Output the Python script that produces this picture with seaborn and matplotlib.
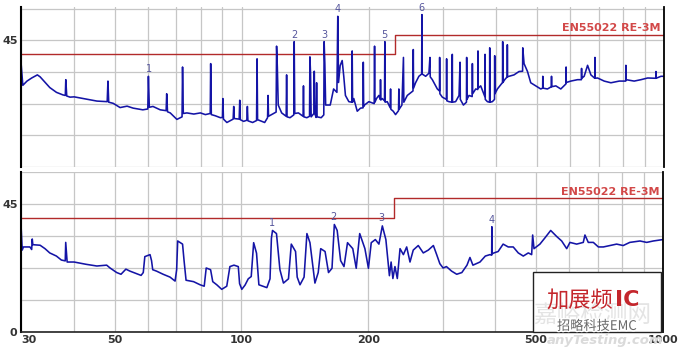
import matplotlib
matplotlib.use("Agg")
import matplotlib.pyplot as plt
import seaborn as sns
from matplotlib.patches import Rectangle
from matplotlib.ticker import NullFormatter
import matplotlib.patheffects as pe

# 1. DATA  (frequency in MHz, level in dBuV/m)
top_freq = [30.0, 30.3, 31.0, 31.8, 32.8, 33.3, 34.0, 35.1, 36.4, 37.7,
            38.2, 38.3, 38.5, 39.2, 40.1, 42.8, 45.4, 48.0, 48.2, 48.4,
            49.6, 51.5, 53.5, 55.3, 58.3, 59.9, 60.1, 60.4, 61.6, 64.1,
            66.2, 66.4, 66.7, 67.7, 70.2, 72.2, 72.4, 72.7, 74.1, 77.0,
            79.8, 82.0, 84.2, 84.4, 84.7, 86.5, 89.0, 90.0, 90.2, 90.5,
            92.2, 95.4, 95.7, 96.0, 98.6, 98.9, 99.2, 101.0, 102.8, 103.1,
            103.4, 106.1, 108.4, 108.7, 109.0, 113.3, 115.1, 115.4, 115.7, 117.6,
            120.6, 120.9, 121.4, 122.0, 124.3, 127.4, 127.7, 128.0, 130.1, 132.8,
            133.1, 133.5, 136.2, 139.7, 140.0, 140.3, 142.6, 144.7, 145.0, 145.5,
            146.0, 148.2, 148.5, 148.9, 150.0, 150.4, 150.8, 154.2, 156.4, 156.7,
            157.3, 158.0, 162.0, 165.0, 168.0, 168.8, 169.5, 171.0, 172.9, 174.4,
            176.0, 179.3, 182.3, 182.6, 183.0, 184.2, 187.7, 191.1, 193.7, 194.0,
            194.4, 195.3, 200.0, 205.9, 206.3, 206.7, 208.5, 211.2, 212.8, 213.1,
            213.5, 215.1, 217.8, 218.2, 218.6, 221.1, 224.7, 225.1, 225.5, 228.4,
            231.3, 235.1, 235.5, 235.9, 239.5, 241.5, 242.0, 246.6, 254.4, 254.8,
            255.2, 258.0, 262.7, 266.7, 267.1, 267.5, 272.6, 277.5, 279.0, 279.5,
            282.7, 290.5, 293.9, 294.2, 294.6, 298.5, 305.2, 305.6, 306.0, 309.4,
            314.8, 315.2, 315.6, 321.0, 327.0, 328.8, 329.3, 334.9, 340.5, 340.9,
            341.4, 345.3, 351.3, 351.7, 352.2, 358.1, 362.2, 362.6, 363.1, 368.0,
            376.4, 376.8, 377.3, 381.7, 386.2, 386.6, 387.1, 392.2, 396.8, 397.2,
            397.7, 403.1, 414.5, 414.9, 415.4, 419.5, 425.2, 425.6, 426.1, 429.4,
            441.3, 453.6, 462.5, 462.9, 466.2, 475.0, 483.5, 496.9, 510.6, 516.0,
            516.3, 516.8, 529.7, 541.0, 541.5, 542.0, 554.4, 569.6, 585.8, 586.3,
            586.8, 601.6, 624.0, 637.4, 637.9, 638.5, 647.0, 659.2, 671.2, 685.5,
            686.1, 686.7, 696.1, 721.7, 748.6, 783.4, 811.6, 812.3, 813.0, 849.9,
            881.9, 914.8, 956.3, 957.1, 958.0, 983.7, 1000.0]
top_level = [37.2, 29.0, 30.5, 31.6, 32.7, 32.0, 30.5, 28.2, 26.5, 25.6,
             25.4, 31.0, 25.2, 24.8, 24.9, 24.1, 23.4, 23.2, 30.5, 23.0,
             22.6, 21.1, 21.6, 20.9, 20.3, 20.6, 32.2, 21.2, 21.5, 20.3,
             20.0, 26.0, 19.6, 19.2, 16.9, 17.8, 35.5, 19.0, 19.2, 18.8,
             19.2, 18.6, 19.0, 36.7, 18.6, 18.2, 17.5, 17.6, 24.3, 17.0,
             15.8, 17.0, 21.5, 17.2, 17.0, 23.7, 16.8, 16.2, 16.6, 21.5,
             16.4, 15.8, 16.5, 38.4, 16.8, 15.8, 17.5, 25.4, 18.0, 18.6,
             19.5, 42.9, 35.5, 22.0, 19.2, 18.0, 32.7, 17.8, 17.5, 18.5,
             44.5, 19.0, 19.2, 18.0, 28.8, 17.8, 17.5, 18.0, 39.1, 33.3,
             17.8, 19.0, 34.0, 19.0, 17.6, 29.9, 17.8, 17.5, 18.5, 44.5,
             36.7, 22.0, 22.0, 27.7, 26.5, 53.5, 30.0, 36.0, 37.8, 32.2,
             25.4, 23.2, 23.0, 41.2, 23.0, 24.3, 19.8, 20.9, 21.0, 37.2,
             21.5, 22.0, 23.2, 22.5, 42.9, 23.0, 24.3, 25.4, 24.0, 31.0,
             23.8, 24.3, 23.5, 44.5, 23.0, 23.2, 21.0, 27.7, 20.5, 19.8,
             18.6, 20.0, 27.7, 20.5, 22.0, 38.9, 23.0, 25.4, 27.0, 41.7,
             28.0, 29.9, 32.2, 33.0, 54.1, 33.0, 32.2, 33.3, 38.9, 32.0,
             31.0, 27.7, 27.0, 38.9, 26.0, 24.8, 24.0, 38.4, 23.5, 23.2,
             23.0, 40.0, 23.0, 23.2, 25.4, 37.2, 24.0, 22.0, 23.0, 38.9,
             24.0, 25.4, 25.0, 36.7, 26.0, 27.7, 27.5, 41.2, 28.0, 28.8,
             25.0, 40.0, 24.0, 23.2, 23.0, 42.3, 23.0, 23.2, 24.0, 39.5,
             26.0, 27.7, 30.0, 44.5, 30.0, 31.0, 32.0, 43.4, 32.0, 32.2,
             32.7, 33.9, 34.0, 42.3, 36.7, 33.9, 29.9, 28.8, 27.7, 28.0,
             32.2, 28.0, 27.7, 28.5, 32.2, 28.5, 28.8, 27.7, 29.5, 35.5,
             30.0, 30.5, 31.0, 31.0, 35.0, 31.5, 32.2, 36.1, 32.7, 31.5,
             38.9, 31.5, 31.6, 30.5, 29.9, 30.5, 30.5, 36.1, 31.0, 30.5,
             31.0, 31.6, 31.5, 33.9, 31.5, 32.2, 32.2]

bottom_freq = [30.0, 30.2, 30.4, 31.5, 31.8, 31.9, 32.0, 33.3, 34.2, 35.1,
               36.4, 37.4, 38.2, 38.3, 38.6, 40.1, 42.8, 45.4, 47.9, 48.8,
               50.6, 51.8, 53.2, 54.4, 56.2, 57.8, 58.5, 59.0, 60.7, 61.2,
               61.6, 62.9, 65.2, 67.7, 69.6, 70.2, 70.6, 72.5, 73.1, 73.9,
               77.0, 79.8, 81.6, 82.5, 84.5, 85.5, 87.4, 89.8, 92.3, 93.9,
               96.0, 98.3, 99.0, 100.2, 102.0, 103.8, 105.5, 106.9, 108.6, 110.0,
               114.9, 116.9, 117.8, 118.5, 121.1, 123.4, 125.8, 129.3, 131.3, 134.4,
               135.6, 137.7, 140.8, 143.0, 145.4, 149.4, 152.1, 154.2, 157.9, 160.9,
               164.0, 166.1, 168.7, 171.9, 175.1, 178.5, 183.7, 187.2, 190.8, 196.3,
               200.1, 203.2, 207.8, 211.9, 215.9, 220.1, 224.4, 226.5, 228.7, 231.3,
               234.3, 237.8, 242.2, 246.6, 251.1, 255.6, 262.7, 270.0, 277.5, 285.3,
               290.5, 295.6, 300.9, 306.4, 315.2, 324.1, 333.3, 342.8, 348.4, 354.1,
               368.0, 378.9, 388.6, 392.3, 392.7, 393.2, 397.2, 406.4, 417.6, 429.4,
               441.3, 453.6, 466.2, 479.2, 488.0, 490.7, 494.3, 510.6, 524.8, 541.5,
               559.3, 575.0, 591.0, 601.6, 624.0, 647.0, 652.9, 664.9, 683.5, 702.6,
               722.0, 748.6, 776.2, 804.6, 834.0, 881.9, 914.8, 948.5, 1000.0]
bottom_level = [37.8, 28.8, 29.9, 29.9, 29.0, 32.7, 30.7, 30.5, 29.3, 27.8,
                26.7, 25.3, 25.0, 31.5, 24.6, 24.6, 23.8, 23.2, 23.5, 22.5,
                20.9, 20.3, 22.1, 21.4, 20.6, 19.9, 20.9, 26.5, 27.2, 25.1,
                21.9, 21.4, 20.3, 19.3, 17.9, 21.9, 32.0, 30.9, 25.1, 18.2,
                17.7, 16.6, 16.1, 22.5, 21.9, 17.7, 16.6, 15.0, 16.1, 23.0,
                23.5, 23.0, 17.0, 15.0, 16.5, 18.7, 19.5, 31.4, 27.7, 16.6,
                15.6, 18.7, 33.0, 35.7, 34.6, 21.9, 17.2, 18.7, 30.9, 28.3,
                19.3, 16.6, 19.3, 34.6, 31.4, 17.2, 20.9, 29.3, 28.3, 20.9,
                22.4, 37.8, 35.7, 25.1, 23.0, 31.4, 29.3, 22.4, 34.6, 29.3,
                22.4, 31.4, 32.5, 30.9, 37.3, 32.5, 19.8, 24.6, 18.8, 23.0,
                18.8, 29.3, 27.2, 29.9, 24.6, 28.8, 30.4, 27.8, 28.8, 30.4,
                27.2, 24.0, 22.5, 23.0, 21.4, 20.3, 20.9, 23.5, 26.2, 23.5,
                24.6, 26.7, 27.2, 27.0, 37.0, 27.5, 27.8, 28.3, 30.9, 29.9,
                29.9, 27.8, 26.7, 27.8, 27.2, 34.1, 29.3, 30.9, 33.1, 35.7,
                33.6, 32.0, 29.3, 31.5, 30.9, 31.5, 34.1, 31.5, 31.5, 29.9,
                29.9, 30.4, 30.9, 30.4, 31.5, 32.0, 31.5, 32.0, 32.5]

limit_freq = [30, 230, 230, 1000]
limit_level = [40, 40, 47, 47]

top_marker_freq = [60.2, 133.0, 157.0, 169.0, 218.0, 267.0]
top_marker_level = [32.2, 44.5, 44.5, 53.5, 44.5, 54.1]
bottom_marker_freq = [118.3, 165.6, 214.5, 392.7]
bottom_marker_level = [36.0, 38.0, 37.6, 37.0]

x_ticks = [30, 50, 100, 200, 500, 1000]
grid_freq = [40, 60, 70, 80, 90, 300, 400, 600, 700, 800, 900]
y_grid = [0, 11.25, 22.5, 33.75, 45, 56.25]

# 2. STYLE
sns.set_style("white")
plt.rcParams['font.family'] = ['DejaVu Sans', 'Noto Sans CJK SC']

trace_color = "#1414a6"
limit_color = "#b22a2a"
grid_color = "#c6c6c6"

fig = plt.figure(figsize=(6.8, 3.57), dpi=100)
ax_top = fig.add_axes([21 / 680, 1 - 167 / 357, 643 / 680, 160 / 357])
ax_bot = fig.add_axes([21 / 680, 1 - 332 / 357, 642 / 680, 160 / 357])


def style_panel(ax, ylim, ylabels, show_x):
    ax.set_xscale('log')
    ax.set_xlim(30, 1000)
    ax.set_ylim(*ylim)
    ax.set_xticks(x_ticks)
    ax.set_xticks(grid_freq, minor=True)
    ax.xaxis.set_minor_formatter(NullFormatter())
    ax.set_xticklabels([str(t) for t in x_ticks] if show_x else [])
    ax.set_yticks(y_grid)
    ax.set_yticklabels(ylabels)
    ax.grid(True, which='both', axis='x', color=grid_color, lw=0.9)
    ax.grid(True, which='major', axis='y', color=grid_color, lw=0.9)
    ax.tick_params(which='both', length=0, pad=2.5, colors='#333333', labelsize=8)
    for lab in ax.get_xticklabels() + ax.get_yticklabels():
        lab.set_fontweight('bold')
    for side in ['top', 'bottom']:
        ax.spines[side].set_visible(False)
    ax.spines['left'].set_color('black')
    ax.spines['left'].set_linewidth(1.5)
    ax.spines['right'].set_color('black')
    ax.spines['right'].set_linewidth(1.3)
    if show_x:
        ax.spines['bottom'].set_visible(True)
        ax.spines['bottom'].set_color('#222222')
        ax.spines['bottom'].set_linewidth(1.2)
    ax.set_xlabel('')
    ax.set_ylabel('')


# 3. PLOT
panels = [
    (ax_top, top_freq, top_level, top_marker_freq, top_marker_level, (2.8, 56.8),
     ['', '', '', '', '45', ''], False),
    (ax_bot, bottom_freq, bottom_level, bottom_marker_freq, bottom_marker_level, (0, 51.0),
     ['0', '', '', '', '45', ''], True),
]

for ax, f, lvl, mf, ml, ylim, ylabels, show_x in panels:
    sns.lineplot(x=limit_freq, y=limit_level, ax=ax, color=limit_color, lw=1.0,
                 estimator=None, sort=False)
    sns.lineplot(x=f, y=lvl, ax=ax, color=trace_color, lw=1.15,
                 estimator=None, sort=False)
    for i, (x, y) in enumerate(zip(mf, ml)):
        ax.annotate(str(i + 1), (x, y), xytext=(0, 1.5), textcoords='offset points',
                    ha='center', va='bottom', fontsize=7, color='#55559c')
    ax.text(0.994, 47.6, 'EN55022 RE-3M', transform=ax.get_yaxis_transform(),
            ha='right', va='bottom', fontsize=8, fontweight='bold', color='#d24848')
    style_panel(ax, ylim, ylabels, show_x)

# the "30" label sits to the right of the axis start
ax_bot.get_xticklabels()[0].set_ha('left')

# annotation box in the lower right corner (with the image watermarks)
ax_bot.add_patch(Rectangle((0.798, 0.0), 0.199, 0.375, transform=ax_bot.transAxes,
                           facecolor='white', edgecolor='#222222', lw=1.0,
                           zorder=5, clip_on=False))
ax_bot.text(0.798, 0.10, '嘉峪检测网', transform=ax_bot.transAxes, fontsize=17,
            family=['Noto Sans CJK SC'], color='#e4e4e4', ha='left', va='center',
            zorder=6)
ax_bot.text(0.819, 0.20, '加展频', transform=ax_bot.transAxes, fontsize=16,
            family=['Noto Sans CJK SC'], color='#c4262c', ha='left', va='center',
            zorder=7)
ax_bot.text(0.925, 0.20, 'IC', transform=ax_bot.transAxes, fontsize=16,
            fontweight='bold', color='#c4262c', ha='left', va='center', zorder=7)
ax_bot.text(0.835, 0.035, '招略科技EMC', transform=ax_bot.transAxes, fontsize=9.5,
            family=['Noto Sans CJK SC', 'DejaVu Sans'], color='#686868', ha='left',
            va='center', zorder=8,
            path_effects=[pe.withStroke(linewidth=2, foreground='white')])
fig.text(0.975, 0.045, 'anyTesting.com', fontsize=9.5, fontstyle='italic',
         fontweight='bold', color='#dadada', ha='right', va='center', zorder=0)

plt.savefig('out.png', dpi=100)
